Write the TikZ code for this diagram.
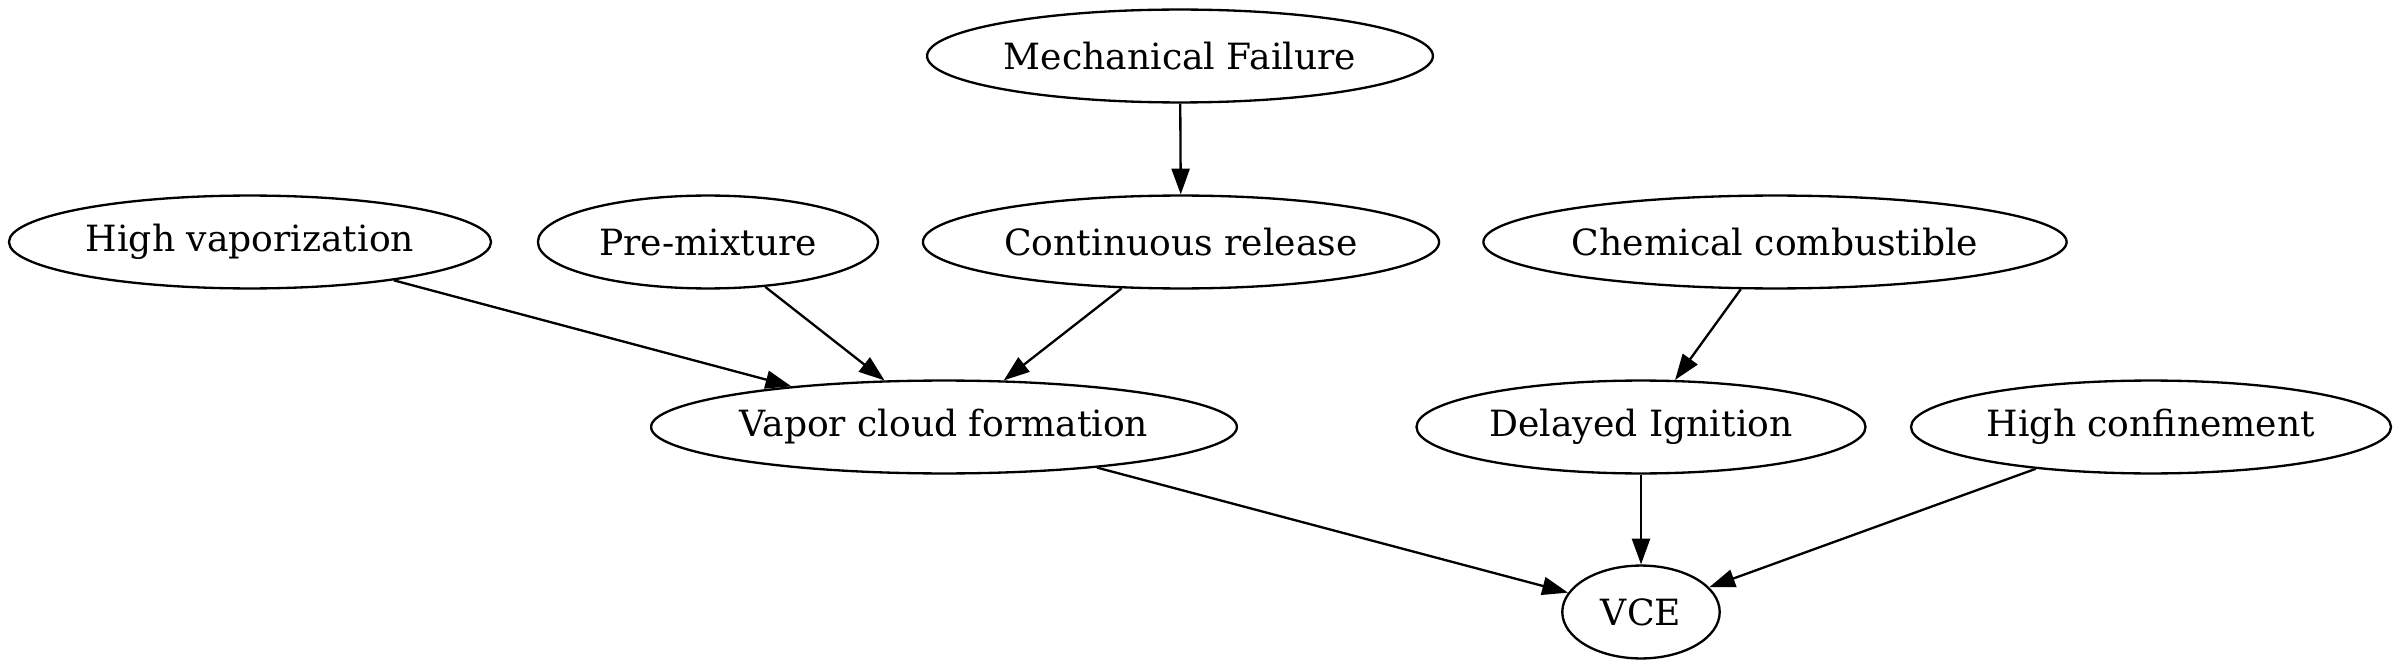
\documentclass[tikz,border=0pt]{standalone}
\usepackage{fontspec}
\setmainfont{DejaVu Serif}
\usetikzlibrary{shapes.geometric,arrows.meta}
\begin{document}
\begin{tikzpicture}[x=0.3875pt,y=-0.3875pt,
  nd/.style={draw,ellipse,line width=0.9pt,inner sep=0pt,minimum height=36pt,font=\fontsize{14}{16}\selectfont},
  ed/.style={draw,line width=0.9pt,-{Triangle[length=10pt,width=7pt]}}]
\useasboundingbox (0,0) rectangle (2400,668);
\node[nd,minimum width=196pt] (mf) at (1180,56) {Mechanical Failure};
\node[nd,minimum width=186.8pt] (hv) at (250,242) {High vaporization};
\node[nd,minimum width=131.8pt] (pm) at (708,242) {Pre-mixture};
\node[nd,minimum width=200pt] (cr) at (1181,242) {Continuous release};
\node[nd,minimum width=226pt] (cc) at (1775,242) {Chemical combustible};
\node[nd,minimum width=227pt] (vcf) at (944,427) {Vapor cloud formation};
\node[nd,minimum width=174pt] (di) at (1641,427) {Delayed Ignition};
\node[nd,minimum width=186pt] (hc) at (2151,427) {High confinement};
\node[nd,minimum width=61pt] (vce) at (1641,612) {VCE};
\draw[ed] (mf) -- (cr);
\draw[ed] (hv) -- (vcf);
\draw[ed] (pm) -- (vcf);
\draw[ed] (cr) -- (vcf);
\draw[ed] (cc) -- (di);
\draw[ed] (vcf) -- (vce);
\draw[ed] (di) -- (vce);
\draw[ed] (hc) -- (vce);
\end{tikzpicture}
\end{document}
